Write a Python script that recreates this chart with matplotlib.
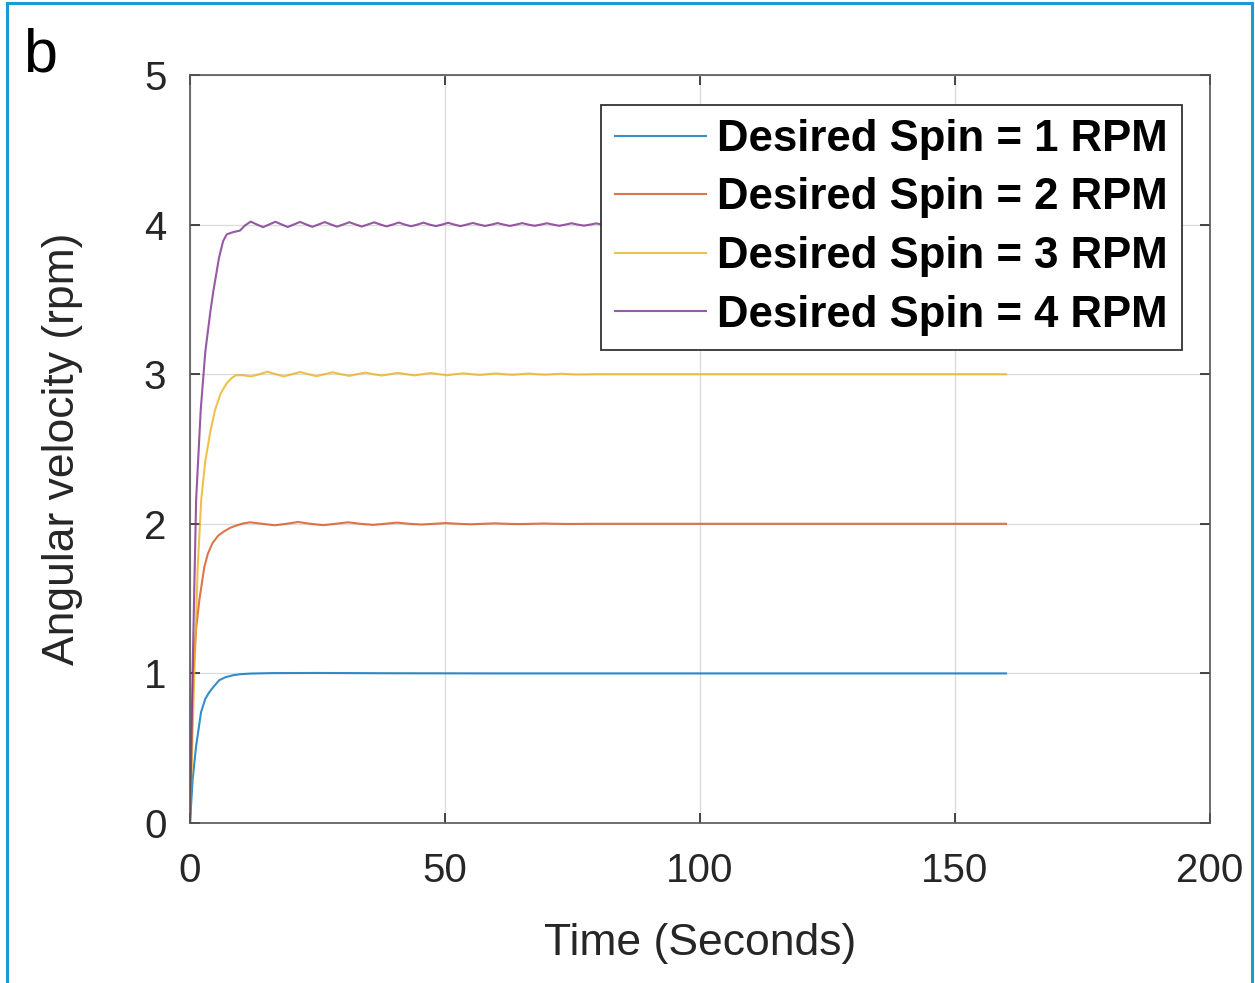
import matplotlib
matplotlib.use("Agg")
import matplotlib.pyplot as plt
from matplotlib.patches import Rectangle

plt.rcParams['font.family'] = ['Liberation Sans', 'DejaVu Sans']

# ---- data ----
labels = ["Desired Spin = 1 RPM", "Desired Spin = 2 RPM",
          "Desired Spin = 3 RPM", "Desired Spin = 4 RPM"]

t_b = [0, 0.1, 0.52, 1.18, 2.16, 3.0, 3.8, 4.6, 5.75, 7.0, 8.5, 10.0, 12.0, 16.0,
       25.0, 40.0, 60.0, 100, 160]
v_b = [0, 0.06, 0.29, 0.51, 0.74, 0.83, 0.875, 0.91, 0.955, 0.975, 0.988, 0.995,
       0.999, 1.002, 1.003, 1.001, 1.0, 1.0, 1.0]

t_r = [0, 0.3, 0.65, 1.2, 1.83, 2.8, 3.5, 4.4, 5.5, 6.7,
       8.0, 9.5, 10.5, 11.8, 14.2, 16.6, 18.9, 21.2, 23.6, 26.1,
       28.5, 31.0, 33.4, 35.9, 38.2, 40.6, 43.0, 45.4, 47.8, 50.2,
       52.6, 55.0, 57.4, 59.8, 62.2, 64.6, 67.0, 69.4, 71.8, 74.2,
       80, 100, 120, 140, 160]
v_r = [0, 0.5, 1.0, 1.3, 1.49, 1.71, 1.80, 1.87, 1.92, 1.95,
       1.975, 1.993, 2.003, 2.01, 2.0, 1.99, 2.0, 2.012, 2.0, 1.991,
       2.0, 2.01, 2.0, 1.993, 2.0, 2.008, 2.0, 1.995, 2.0, 2.005,
       2.0, 1.997, 2.0, 2.003, 2.0, 1.998, 2.0, 2.002, 2.0, 1.999,
       2.0, 2.0, 2.0, 2.0, 2.0]

t_y = [0, 0.5, 0.9, 1.5, 2.2, 3.0, 4.0, 4.9, 6.0, 7.2,
       8.2, 9.0, 10.5, 12.0, 13.6, 15.2, 16.8, 18.4, 20.0, 21.6,
       23.2, 24.8, 26.4, 28.0, 29.6, 31.2, 32.8, 34.4, 36.0, 37.6,
       39.2, 40.8, 42.4, 44.0, 45.6, 47.2, 48.8, 50.4, 52.0, 53.6,
       55.2, 56.8, 58.4, 60.0, 61.6, 63.2, 64.8, 66.4, 68.0, 69.6,
       71.2, 72.8, 74.4, 76.0, 80, 100, 120, 140, 160]
v_y = [0, 0.6, 1.05, 1.7, 2.16, 2.42, 2.62, 2.76, 2.87, 2.94,
       2.975, 2.993, 2.993, 2.985, 3.0, 3.017, 3.0, 2.985, 3.0, 3.015,
       3.0, 2.987, 3.0, 3.013, 3.0, 2.989, 3.0, 3.011, 3.0, 2.991,
       3.0, 3.009, 3.0, 2.992, 3.0, 3.008, 3.0, 2.993, 3.0, 3.006,
       3.0, 2.995, 3.0, 3.005, 3.0, 2.996, 3.0, 3.004, 3.0, 2.997,
       3.0, 3.003, 3.0, 2.998, 3.0, 3.0, 3.0, 3.0, 3.0]

t_p = [0, 0.5, 1.2, 2.1, 3.0, 4.0, 4.6, 5.7, 6.5, 7.2, 8.5, 9.8, 10.8, 11.9,
       13.11, 14.32, 15.53, 16.74, 17.95, 19.16, 20.37, 21.58, 22.79, 24.0,
       25.21, 26.42, 27.63, 28.84, 30.05, 31.26, 32.47, 33.68, 34.89, 36.10,
       37.31, 38.52, 39.73, 40.94, 42.15, 43.36, 44.57, 45.78, 46.99, 48.2,
       49.41, 50.62, 51.83, 53.04, 54.25, 55.46, 56.67, 57.88, 59.09, 60.30,
       61.51, 62.72, 63.93, 65.14, 66.35, 67.56, 68.77, 69.98, 71.19, 72.4,
       73.61, 74.82, 76.03, 77.24, 78.45, 79.66, 80.87, 82.08, 83.29, 84.5,
       90, 100, 120, 140, 160]
v_p = [0, 1.0, 2.16, 2.76, 3.15, 3.42, 3.56, 3.78, 3.89, 3.935, 3.95, 3.96, 3.995, 4.020,
       4.001, 3.983, 4.001, 4.019, 4.001, 3.984, 4.001, 4.018, 4.001, 3.985,
       4.001, 4.017, 4.001, 3.986, 4.001, 4.016, 4.001, 3.987, 4.001, 4.015,
       4.001, 3.988, 4.0, 4.014, 4.0, 3.989, 4.0, 4.013, 4.0, 3.990,
       4.0, 4.012, 4.0, 3.990, 4.0, 4.011, 4.0, 3.991, 4.0, 4.010,
       4.0, 3.991, 4.0, 4.010, 4.0, 3.992, 4.0, 4.009, 4.0, 3.992,
       4.0, 4.009, 4.0, 3.993, 4.0, 4.008, 4.0, 3.993, 4.0, 4.008,
       4.0, 4.0, 4.0, 4.0, 4.0]

x_ticks = [0, 50, 100, 150, 200]
y_ticks = [0, 1, 2, 3, 4, 5]

colors = ["#0072BD", "#D95319", "#EDB120", "#7E2F8E"]

# ---- figure ----
W, H = 1255, 983
fig = plt.figure(figsize=(W / 100, H / 100), dpi=100)
ax = fig.add_axes([190 / W, 1 - 823 / H, 1020 / W, 748 / H])

series = [(t_b, v_b), (t_r, v_r), (t_y, v_y), (t_p, v_p)]
for (t, v), c, lab in zip(series, colors, labels):
    ax.plot(t, v, color=c, lw=1.5, label=lab, alpha=0.8,
            solid_joinstyle="round")

ax.set_xlim(0, 200)
ax.set_ylim(0, 5)
ax.set_xticks(x_ticks)
ax.set_yticks(y_ticks)
ax.grid(True, color="#dcdcdc", lw=1.0)
ax.set_axisbelow(True)

dark = "#262626"
for s in ax.spines.values():
    s.set_color("#555555")
    s.set_linewidth(1.2)
ax.tick_params(direction="in", length=7, width=1.2, color=dark,
               labelsize=29, labelcolor=dark,
               top=True, right=True)
ax.tick_params(axis="x", pad=21)
ax.tick_params(axis="y", pad=17)

ax.set_xlabel("Time (Seconds)", fontsize=32, color=dark, labelpad=24)
ax.set_ylabel("Angular velocity (rpm)", fontsize=32, color=dark, labelpad=44)

leg = ax.legend(loc="upper right", bbox_to_anchor=((1182 - 190) / 1020, (823 - 105) / 748),
                borderaxespad=0, fancybox=False, framealpha=1,
                edgecolor="#333333", prop={"size": 31.5, "weight": "bold"},
                handlelength=2.1, handletextpad=0.25, labelspacing=0.40,
                borderpad=0.32)
leg.get_frame().set_linewidth(1.3)

fig.text(23 / W, 1 - 72 / H, "b", fontsize=44, va="baseline", ha="left", color="black")

# cyan frame
fig.patches.append(Rectangle((7 / W, -0.01), (1252 - 7) / W, 1 - 3 / H + 0.01,
                             transform=fig.transFigure, fill=False,
                             edgecolor="#1a9bd6", lw=2.2))

fig.savefig("out.png", dpi=100)
